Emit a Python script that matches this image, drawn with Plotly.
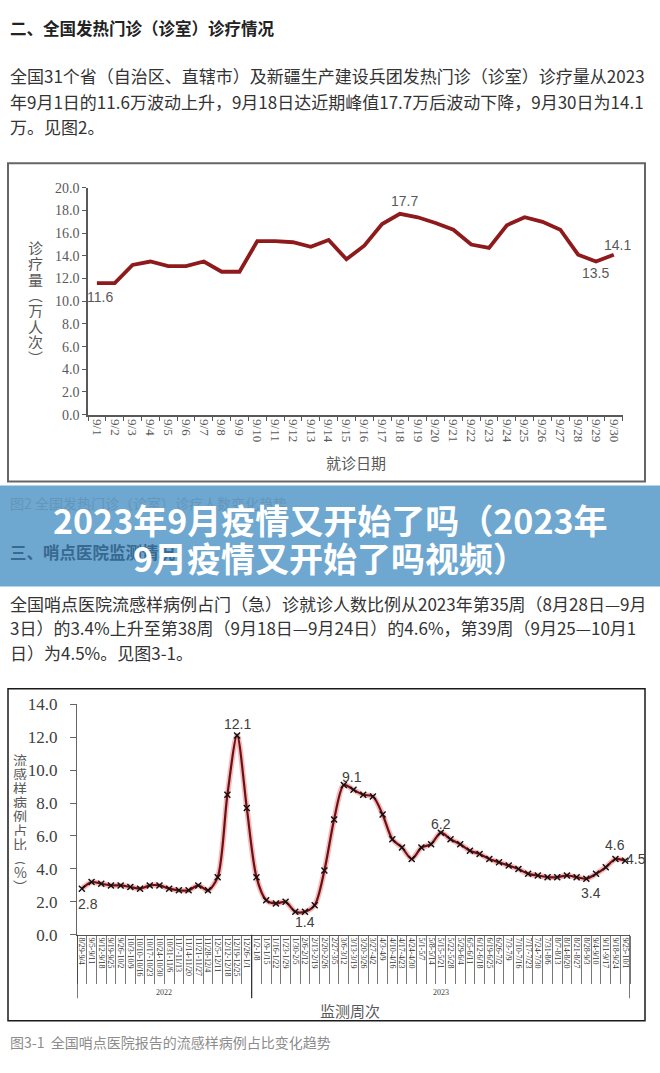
import plotly.graph_objects as go

W, H = 660, 1073


def PX(x):
    return x / W


def PY(y):
    return 1 - y / H


# ---------------- data ----------------
days = ["9/1", "9/2", "9/3", "9/4", "9/5", "9/6", "9/7", "9/8", "9/9", "9/10",
        "9/11", "9/12", "9/13", "9/14", "9/15", "9/16", "9/17", "9/18", "9/19", "9/20",
        "9/21", "9/22", "9/23", "9/24", "9/25", "9/26", "9/27", "9/28", "9/29", "9/30"]
fever_visits = [11.6, 11.6, 13.2, 13.5, 13.1, 13.1, 13.5, 12.6, 12.6, 15.3,
                15.3, 15.2, 14.8, 15.4, 13.7, 14.9, 16.8, 17.7, 17.4, 16.9,
                16.3, 15.0, 14.7, 16.7, 17.4, 17.0, 16.3, 14.1, 13.5, 14.1]
fever_labels = {"9/1": (3, -14), "9/18": (5, 13), "9/29": (0, -11), "9/30": (4, 10)}

weeks_2022 = ["8/29-9/4", "9/5-9/11", "9/12-9/18", "9/19-9/25", "9/26-10/2", "10/3-10/9",
              "10/10-10/16", "10/17-10/23", "10/24-10/30", "10/31-11/6", "11/7-11/13",
              "11/14-11/20", "11/21-11/27", "11/28-12/4", "12/5-12/11", "12/12-12/18",
              "12/19-12/25", "12/26-1/1"]
weeks_2023 = ["1/2-1/8", "1/9-1/15", "1/16-1/22", "1/23-1/29", "1/30-2/5", "2/6-2/12",
              "2/13-2/19", "2/20-2/26", "2/27-3/5", "3/6-3/12", "3/13-3/19", "3/20-3/26",
              "3/27-4/2", "4/3-4/9", "4/10-4/16", "4/17-4/23", "4/24-4/30", "5/1-5/7",
              "5/8-5/14", "5/15-5/21", "5/22-5/28", "5/29-6/4", "6/5-6/11", "6/12-6/18",
              "6/19-6/25", "6/26-7/2", "7/3-7/9", "7/10-7/16", "7/17-7/23", "7/24-7/30",
              "7/31-8/6", "8/7-8/13", "8/14-8/20", "8/21-8/27", "8/28-9/3", "9/4-9/10",
              "9/11-9/17", "9/18-9/24", "9/25-10/1"]
years = ["2022", "2023"]
ili_share = [2.8, 3.2, 3.1, 3.0, 3.0, 2.9, 2.8, 3.0, 3.0, 2.8, 2.7, 2.7, 3.0, 2.7,
             3.5, 8.5, 12.1, 7.7,
             3.5, 2.1, 1.9, 2.0, 1.4, 1.4, 1.8, 3.9,
             7.0, 9.1, 8.8, 8.5, 8.4, 7.3, 5.8, 5.3, 4.6, 5.3, 5.5, 6.2,
             5.8, 5.5, 5.1, 4.9, 4.6, 4.4, 4.2, 4.0, 3.7, 3.6, 3.5, 3.5, 3.6, 3.5,
             3.4, 3.7, 4.1, 4.6, 4.5]
weeks = weeks_2022 + weeks_2023
ili_labels = {0: (6, -15), 16: (0, 11), 23: (0, -10), 27: (8, 8), 37: (0, 9),
              52: (5, -14), 55: (0, 14), 56: (11, 2)}

# ---------------- text ----------------
heading1 = "二、全国发热门诊（诊室）诊疗情况"
para1 = ["全国31个省（自治区、直辖市）及新疆生产建设兵团发热门诊（诊室）诊疗量从2023",
         "年9月1日的11.6万波动上升，9月18日达近期峰值17.7万后波动下降，9月30日为14.1",
         "万。见图2。"]
caption1 = "图2 全国发热门诊（诊室）诊疗人数变化趋势"
heading2 = "三、哨点医院监测情况"
para2 = ["全国哨点医院流感样病例占门（急）诊就诊人数比例从2023年第35周（8月28日—9月",
         "3日）的3.4%上升至第38周（9月18日—9月24日）的4.6%，第39周（9月25—10月1",
         "日）为4.5%。见图3-1。"]
caption2 = "图3-1  全国哨点医院报告的流感样病例占比变化趋势"
banner = ["2023年9月疫情又开始了吗（2023年", "9月疫情又开始了吗视频）"]
y1_title = "诊疗量︵万人次︶"
x1_title = "就诊日期"
y2_title = "流感样病例占比︵%︶"
x2_title = "监测周次"

CJK = "Noto Sans CJK SC"
SERIF = "Liberation Serif"
SANS = "Liberation Sans"

fig = go.Figure()

# chart 1
fig.add_trace(go.Scatter(x=days, y=fever_visits, mode="lines",
                         line=dict(color="#8E1A1C", width=3.8),
                         xaxis="x", yaxis="y", hoverinfo="skip", showlegend=False))
# chart 2 (glow + line + markers)
fig.add_trace(go.Scatter(x=weeks, y=ili_share, mode="lines",
                         line=dict(color="rgba(225,80,85,0.38)", width=5.5, shape="spline", smoothing=0.8),
                         xaxis="x2", yaxis="y2", hoverinfo="skip", showlegend=False))
fig.add_trace(go.Scatter(x=weeks, y=ili_share, mode="lines+markers",
                         line=dict(color="#6E0F12", width=2.2, shape="spline", smoothing=0.8),
                         marker=dict(symbol="x-thin", size=6, color="#111",
                                     line=dict(color="#111", width=1.4)),
                         xaxis="x2", yaxis="y2", hoverinfo="skip", showlegend=False))
# invisible trace so the cell-separator axis (x3) gets drawn
fig.add_trace(go.Scatter(x=list(range(len(weeks))), y=[None] * len(weeks), mode="lines",
                         xaxis="x3", yaxis="y2", hoverinfo="skip", showlegend=False))

ann = []


def text(x, y, t, size, color, family=CJK, xanchor="left", bold=False, height=None):
    if bold:
        t = "<b>" + t + "</b>"
    a = dict(x=PX(x), y=PY(y), xref="paper", yref="paper", text=t, showarrow=False,
             xanchor=xanchor, yanchor="middle",
             font=dict(size=size, color=color, family=family))
    if height is not None:
        a.update(height=height, borderpad=0, valign="middle")
    ann.append(a)


# article text
text(8, 19, heading1, 16.5, "#222", bold=True)
for i, line in enumerate(para1):
    text(8, 68 + i * 26, line, 17, "#333")
# text hidden behind banner (blended colours)
text(8, 503, caption1, 14, "#6396bd")
text(8, 553, heading2, 16.5, "#386990", bold=True)
for i, line in enumerate(para2):
    text(8, 605 + i * 25, line, 17, "#333")
text(8, 1052, caption2, 14, "#8c8c8c")

# banner text
text(330, 520, banner[0], 34, "white", xanchor="center", bold=True)
text(330, 558, banner[1], 34, "white", xanchor="center", bold=True)

# chart 1 titles (vertical, one glyph per row)
for i, ch in enumerate(y1_title):
    text(35, 243 + i * 16, ch, 15, "#595959", xanchor="center", height=15)
text(356, 462, x1_title, 15, "#595959", xanchor="center")
# chart 2 titles
for i, ch in enumerate(y2_title):
    text(20, 764 + i * 14.3, ch, 14, "#595959", xanchor="center", height=13)
text(350, 1020, x2_title, 15, "#595959", xanchor="center")

# data labels chart 1
for d, (dx, dy) in fever_labels.items():
    v = fever_visits[days.index(d)]
    ann.append(dict(x=d, y=v, xref="x", yref="y", text=f"{v:.1f}", showarrow=False,
                    xshift=dx, yshift=dy, font=dict(size=14, color="#595959", family=SANS)))
# data labels chart 2
for i, (dx, dy) in ili_labels.items():
    v = ili_share[i]
    ann.append(dict(x=weeks[i], y=v, xref="x2", yref="y2", text=f"{v:.1f}", showarrow=False,
                    xshift=dx, yshift=dy, font=dict(size=14, color="#404040", family=SANS)))

# year group labels
n22 = len(weeks_2022)
groups = [(0, n22 - 1), (n22, len(weeks) - 1)]
for yr, (a, b) in zip(years, groups):
    ann.append(dict(x=(a + b) / 2, y=PY(1001), xref="x2", yref="paper", text=yr, showarrow=False,
                    yanchor="middle", font=dict(size=8, color="#444", family=SERIF)))

shapes = [
    dict(type="rect", xref="paper", yref="paper", x0=PX(8), x1=PX(645), y0=PY(481), y1=PY(157),
         line=dict(color="#666", width=2)),
    dict(type="rect", xref="paper", yref="paper", x0=PX(8), x1=PX(645), y0=PY(1030), y1=PY(692),
         line=dict(color="#1a1a1a", width=1.5)),
    dict(type="rect", xref="paper", yref="paper", x0=0, x1=1, y0=PY(588), y1=PY(485),
         fillcolor="#6EA7CF", line=dict(width=0), layer="above"),
]
for b in [-0.5, n22 - 0.5, len(weeks) - 0.5]:
    shapes.append(dict(type="line", xref="x2", yref="paper", x0=b, x1=b, y0=PY(942.5), y1=PY(1007),
                       line=dict(color="#333", width=1.3)))

fig.update_layout(
    width=W, height=H, autosize=False,
    margin=dict(l=0, r=0, t=0, b=0),
    paper_bgcolor="white", plot_bgcolor="white",
    showlegend=False,
    xaxis=dict(domain=[PX(88), PX(622.7)], anchor="y", type="category", range=[-0.5, len(days) - 0.5],
               tickson="boundaries", ticks="outside", ticklen=5, tickcolor="#595959",
               showline=True, linecolor="#595959", linewidth=1.5, tickangle=90,
               tickfont=dict(family=SERIF, size=13, color="#595959"), showgrid=False, zeroline=False),
    yaxis=dict(domain=[PY(413), PY(182)], anchor="x", range=[0, 20], dtick=2, tickformat=".1f",
               ticks="outside", ticklen=4, tickcolor="#595959", showline=True, linecolor="#595959",
               linewidth=1.5, tickfont=dict(family=SERIF, size=14, color="#595959"),
               showgrid=False, zeroline=False),
    xaxis2=dict(domain=[PX(77), PX(630)], anchor="y2", type="category", range=[-0.5, len(weeks) - 0.5],
                tickmode="array", tickvals=weeks, ticktext=weeks,
                ticks="", tickangle=90, showline=True, linecolor="#555", linewidth=1.2,
                tickfont=dict(family=SERIF, size=8, color="#333"), showgrid=False, zeroline=False),
    xaxis3=dict(domain=[PX(77), PX(630)], anchor="y2", overlaying="x2", range=[-0.5, len(weeks) - 0.5],
                tickvals=[i - 0.5 for i in range(len(weeks) + 1)], ticks="outside", ticklen=48,
                tickcolor="#777", tickwidth=1, showticklabels=False, showline=False,
                showgrid=False, zeroline=False),
    yaxis2=dict(domain=[PY(942.5), PY(707.7)], anchor="x2", range=[0, 14], dtick=2, tickformat=".1f",
                ticks="outside", ticklen=6, tickcolor="#666", showline=True, linecolor="#666",
                linewidth=1.2, ticklabelstandoff=9,
                tickfont=dict(family=SERIF, size=17, color="#404040"), showgrid=False, zeroline=False),
    annotations=ann,
    shapes=shapes,
)

fig.write_html("out.html")
